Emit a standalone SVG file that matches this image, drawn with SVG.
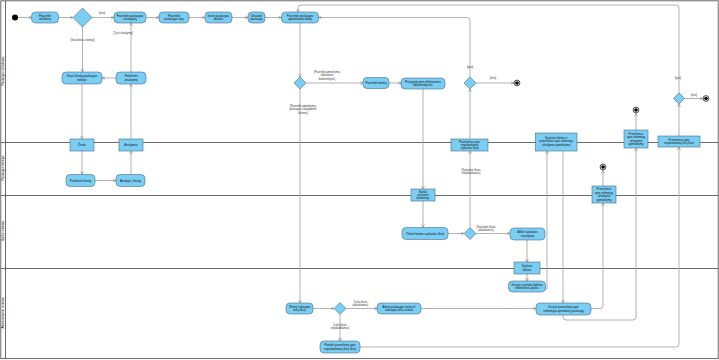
<svg xmlns="http://www.w3.org/2000/svg" width="719" height="360" viewBox="0 0 719 360">
<style>
.lane{stroke:#5a5a5a;stroke-width:0.9;fill:none}
.act{fill:#7acdf3;stroke:#4a6d86;stroke-width:0.6}
.obj{fill:#7acdf3;stroke:#4a6d86;stroke-width:0.6}
.dec{fill:#7acdf3;stroke:#4a6d86;stroke-width:0.6}
.c{fill:none;stroke:#a9a9a9;stroke-width:0.9;marker-end:url(#arr)}
text{font-family:"Liberation Sans",Arial,sans-serif;fill:#111}
.t{font-size:3px;text-anchor:middle}
.o{font-size:2.8px;text-anchor:middle}
.l{font-size:2.6px;text-anchor:middle;fill:#333}
.ln{font-size:3px;text-anchor:middle}
</style>
<defs>
<marker id="arr" viewBox="0 0 6 6" refX="5.6" refY="3" markerWidth="3.6" markerHeight="3.6" orient="auto" markerUnits="userSpaceOnUse">
<path d="M0.5,0.6 L5.6,3 L0.5,5.4" fill="none" stroke="#8a8a8a" stroke-width="1"/>
</marker>
</defs>
<rect width="719" height="360" fill="#ffffff"/>
<g id="lanes">
<rect class="lane" x="0.8" y="0.8" width="717.4" height="357.8"/>
<line class="lane" x1="5.5" y1="0.8" x2="5.5" y2="358.6"/>
<line class="lane" x1="0.8" y1="142.5" x2="718.2" y2="142.5"/>
<line class="lane" x1="0.8" y1="195.5" x2="718.2" y2="195.5"/>
<line class="lane" x1="0.8" y1="268.5" x2="718.2" y2="268.5"/>
<text class="ln" transform="translate(4.2,71) rotate(-90)">Paslaugos užsakovas</text>
<text class="ln" transform="translate(4.2,168) rotate(-90)">Paslaugos tiekėjas</text>
<text class="ln" transform="translate(4.2,231) rotate(-90)">Banko sistema</text>
<text class="ln" transform="translate(4.2,313) rotate(-90)">Administracinė sistema</text>
</g>
<g id="connectors">
<path class="c" d="M18,17.5 H31.5"/>
<path class="c" d="M58.5,17.5 H73"/>
<path class="c" d="M92,17.5 H114"/>
<text class="l" x="102" y="14">[else]</text>
<path class="c" d="M146,17.5 H159"/>
<path class="c" d="M189,17.5 H205"/>
<path class="c" d="M232,17.5 H248"/>
<path class="c" d="M265,17.5 H281.5"/>
<path class="c" d="M82.5,27 V72"/>
<text class="l" x="82.5" y="41">[Susisiekti su tiekėju]</text>
<path class="c" d="M116,78 H102"/>
<path class="c" d="M131,72 V23"/>
<text class="l" x="123" y="34">[Tęsti užsakymą]</text>
<path class="c" d="M82,84 V139"/>
<path class="c" d="M82,151 V174.5"/>
<path class="c" d="M95,180.5 H116"/>
<path class="c" d="M131,174.5 V151"/>
<path class="c" d="M131,139 V84"/>
<path class="c" d="M300,23 V77"/>
<path class="c" d="M306,83 H363"/>
<text class="l" x="327" y="73">[Pasirinkti apmokėjimą</text>
<text class="l" x="327" y="76.3">elektronine</text>
<text class="l" x="327" y="79.6">bankininkyste]</text>
<path class="c" d="M300,89 V303"/>
<text class="l" x="303" y="107">[Pasirinkti apmokėjimą</text>
<text class="l" x="303" y="110.3">paslaugos sukauptomis</text>
<text class="l" x="303" y="113.6">lėšomis]</text>
<path class="c" d="M389,83 H401"/>
<path class="c" d="M423,89 V189"/>
<path class="c" d="M423,201 V227.5"/>
<path class="c" d="M448,233.5 H464"/>
<path class="c" d="M476,233.5 H510"/>
<text class="l" x="486" y="227.5">[Sąskaitos likutis</text>
<text class="l" x="486" y="230.8">pakankamas]</text>
<path class="c" d="M470,227.5 V151"/>
<text class="l" x="471" y="171">[Sąskaitos likutis</text>
<text class="l" x="471" y="174.3">nepakankamas]</text>
<path class="c" d="M470,139 V89"/>
<path class="c" d="M476,83 H514"/>
<text class="l" x="493" y="78.5">[else]</text>
<path class="c" d="M470,77 V20.5 Q470,17.5 467,17.5 H318.5"/>
<text class="l" x="470" y="68">[tęsti]</text>
<path class="c" d="M679,93 V8 Q679,5 676,5 H301 Q298,5 298,8 V12"/>
<text class="l" x="678" y="78.5">[tęsti]</text>
<path class="c" d="M684.5,98.5 H703"/>
<text class="l" x="694" y="95.5">[else]</text>
<path class="c" d="M679,136 V104"/>
<path class="c" d="M527,240 V262"/>
<path class="c" d="M527,274 V281"/>
<path class="c" d="M545.5,289.5 Q547,289.5 547,288 V151"/>
<path class="c" d="M563,151 V303"/>
<path class="c" d="M313,308.5 H334"/>
<path class="c" d="M346,308.5 H377"/>
<text class="l" x="360.5" y="303">[Lėšų likutis</text>
<text class="l" x="360.5" y="306.3">pakankamas]</text>
<path class="c" d="M340,314.5 V341"/>
<text class="l" x="340" y="326">[Lėšų likutis</text>
<text class="l" x="340" y="329.3">nepakankamas]</text>
<path class="c" d="M421,308.5 H536"/>
<path class="c" d="M591,308.5 H600 Q603,308.5 603,305.5 V203"/>
<path class="c" d="M603,186 V170.3"/>
<path class="c" d="M563,315 V317 Q563,320 566,320 H633 Q636,320 636,317 V148"/>
<path class="c" d="M636,130 V113.3"/>
<path class="c" d="M360,347 H676 Q679,347 679,344 V147"/>
</g>
<g id="start"><circle cx="15" cy="17.5" r="3" fill="#000"/></g>
<g id="end1"><circle cx="517" cy="83" r="2.9" fill="#fff" stroke="#000" stroke-width="0.7"/><circle cx="517" cy="83" r="1.8" fill="#000"/></g>
<g id="end2"><circle cx="706" cy="98.5" r="2.9" fill="#fff" stroke="#000" stroke-width="0.7"/><circle cx="706" cy="98.5" r="1.8" fill="#000"/></g>
<g id="end3"><circle cx="636" cy="110" r="2.9" fill="#fff" stroke="#000" stroke-width="0.7"/><circle cx="636" cy="110" r="1.8" fill="#000"/></g>
<g id="end4"><circle cx="603" cy="167" r="2.9" fill="#fff" stroke="#000" stroke-width="0.7"/><circle cx="603" cy="167" r="1.8" fill="#000"/></g>
<g id="d1"><polygon class="dec" points="82.5,8 92,17.5 82.5,27 73,17.5"/></g>
<g id="d2"><polygon class="dec" points="300,77 306,83 300,89 294,83"/></g>
<g id="d3"><polygon class="dec" points="470,77 476,83 470,89 464,83"/></g>
<g id="d4"><polygon class="dec" points="679,93 684.5,98.5 679,104 673.5,98.5"/></g>
<g id="d5"><polygon class="dec" points="470,227.5 476,233.5 470,239.5 464,233.5"/></g>
<g id="d6"><polygon class="dec" points="340,302.5 346,308.5 340,314.5 334,308.5"/></g>
<g id="n1"><rect class="act" x="31.5" y="12" width="27" height="11" rx="4"/><text class="t" x="45" y="16.8">Pasirinkti</text><text class="t" x="45" y="20.3">skelbimą</text></g>
<g id="n2"><rect class="act" x="114" y="12" width="32" height="11" rx="4"/><text class="t" x="130" y="16.8">Pasirinkti paslaugos</text><text class="t" x="130" y="20.3">užsakymą</text></g>
<g id="n3"><rect class="act" x="159" y="12" width="30" height="11" rx="4"/><text class="t" x="174" y="16.8">Pasirinkti</text><text class="t" x="174" y="20.3">paslaugos tipą</text></g>
<g id="n4"><rect class="act" x="205" y="12" width="27" height="11" rx="4"/><text class="t" x="218.5" y="16.8">Įvesti paslaugos</text><text class="t" x="218.5" y="20.3">detales</text></g>
<g id="n5"><rect class="act" x="248" y="12" width="17" height="11" rx="4"/><text class="t" x="256.5" y="16.8">Užsakyti</text><text class="t" x="256.5" y="20.3">paslaugą</text></g>
<g id="n6"><rect class="act" x="281.5" y="12" width="37" height="11" rx="4"/><text class="t" x="300" y="16.8">Pasirinkti paslaugos</text><text class="t" x="300" y="20.3">apmokėjimo būdą</text></g>
<g id="n7"><rect class="act" x="62" y="72" width="40" height="12" rx="4"/><text class="t" x="82" y="77.3">Siųsti žinutę paslaugos</text><text class="t" x="82" y="80.8">tiekėjui</text></g>
<g id="n8"><rect class="act" x="116" y="72" width="30" height="12" rx="4"/><text class="t" x="131" y="77.3">Peržiūrėti</text><text class="t" x="131" y="80.8">atsakymą</text></g>
<g id="o1"><rect class="obj" x="70" y="139" width="24" height="12"/><text class="o" x="82" y="146">Žinutė</text></g>
<g id="o2"><rect class="obj" x="119" y="139" width="24" height="12"/><text class="o" x="131" y="146">Atsakymas</text></g>
<g id="n9"><rect class="act" x="66" y="174.5" width="29" height="12" rx="4"/><text class="t" x="80.5" y="181.5">Peržiūrėti žinutę</text></g>
<g id="n10"><rect class="act" x="116" y="174.5" width="29" height="12" rx="4"/><text class="t" x="130.5" y="181.5">Atsakyti į žinutę</text></g>
<g id="n11"><rect class="act" x="363" y="77.5" width="26" height="11" rx="4"/><text class="t" x="376" y="84">Pasirinkti banką</text></g>
<g id="n12"><rect class="act" x="401" y="78" width="44" height="11" rx="4"/><text class="t" x="423" y="82.8">Prisijungti prie elektroninės</text><text class="t" x="423" y="86.3">bankininkystės</text></g>
<g id="o3"><rect class="obj" x="451" y="139" width="37" height="12"/><text class="o" x="469.5" y="142.7">Pranešimas apie</text><text class="o" x="469.5" y="146">nepakankamą</text><text class="o" x="469.5" y="149.3">sąskaitos likutį</text></g>
<g id="o4"><rect class="obj" x="535.5" y="133" width="41.5" height="18"/><text class="o" x="556.2" y="138.8">Sąskaita faktūra ir</text><text class="o" x="556.2" y="142.4">pranešimas apie sėkmingą</text><text class="o" x="556.2" y="146">užsakymo apmokėjimą</text></g>
<g id="o5"><rect class="obj" x="624" y="130" width="24" height="18"/><text class="o" x="636" y="134.8">Pranešimas</text><text class="o" x="636" y="138.3">apie sėkmingą</text><text class="o" x="636" y="141.8">užsakymo</text><text class="o" x="636" y="145.3">apmokėjimą</text></g>
<g id="o6"><rect class="obj" x="658" y="136" width="42" height="11"/><text class="o" x="679" y="140.8">Pranešimas apie</text><text class="o" x="679" y="144.3">nepakankamą lėšų likutį</text></g>
<g id="o7"><rect class="obj" x="411" y="189" width="24" height="12"/><text class="o" x="423" y="192.7">Banko</text><text class="o" x="423" y="196">sąskaitos</text><text class="o" x="423" y="199.3">duomenys</text></g>
<g id="o8"><rect class="obj" x="592" y="186" width="24" height="17"/><text class="o" x="604" y="190.3">Pranešimas</text><text class="o" x="604" y="193.8">apie sėkmingą</text><text class="o" x="604" y="197.3">užsakymo</text><text class="o" x="604" y="200.8">apmokėjimą</text></g>
<g id="n13"><rect class="act" x="402" y="227.5" width="46" height="12" rx="4"/><text class="t" x="425" y="234.5">Tikrinti banko sąskaitos likutį</text></g>
<g id="n14"><rect class="act" x="510" y="228" width="35" height="12" rx="4"/><text class="t" x="527.5" y="233.3">Atlikti sąskaitos</text><text class="t" x="527.5" y="236.8">nurašymą</text></g>
<g id="o9"><rect class="obj" x="514" y="262" width="26" height="12"/><text class="o" x="527" y="267.3">Sąskaita</text><text class="o" x="527" y="270.8">faktūra</text></g>
<g id="n15"><rect class="act" x="508.5" y="281" width="37" height="11" rx="4"/><text class="t" x="527" y="285.8">Išsiųsti sąskaitą faktūrą</text><text class="t" x="527" y="289.3">elektroniniu paštu</text></g>
<g id="n16"><rect class="act" x="536" y="303" width="55" height="12" rx="4"/><text class="t" x="563.5" y="308.3">Išsiųsti pranešimą apie</text><text class="t" x="563.5" y="311.8">sėkmingai apmokėtą paslaugą</text></g>
<g id="n17"><rect class="act" x="286" y="303" width="27" height="11" rx="4"/><text class="t" x="299.5" y="307.8">Tikrinti sukauptų</text><text class="t" x="299.5" y="311.3">lėšų likutį</text></g>
<g id="n18"><rect class="act" x="377" y="303" width="44" height="11" rx="4"/><text class="t" x="399" y="307.8">Atimti paslaugos kainą iš</text><text class="t" x="399" y="311.3">sukauptų lėšų sumos</text></g>
<g id="n19"><rect class="act" x="320" y="341" width="40" height="12" rx="4"/><text class="t" x="340" y="346.3">Pateikti pranešimą apie</text><text class="t" x="340" y="349.8">nepakankamą lėšų likutį</text></g>
</svg>
